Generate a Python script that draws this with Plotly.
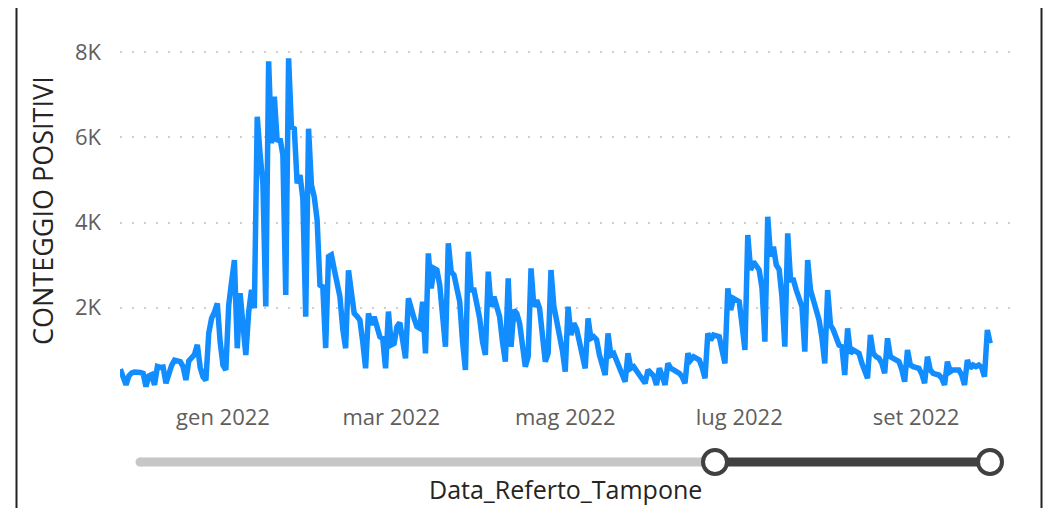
import pandas as pd
import plotly.graph_objects as go

# ---------------- data (daily positive counts) ----------------
start_date = "2021-11-26"
nov_2021 = [560, 400, 190, 400, 470]
dec_2021 = [490, 500, 480, 460, 150, 400, 430, 190, 620, 600, 610, 230, 450, 650, 770, 740,
            735, 620, 305, 750, 850, 900, 1130, 600, 380, 300, 1400, 1750, 1900, 2100, 1200]
jan_2022 = [650, 540, 2060, 2600, 3120, 1050, 2340, 1600, 890, 1900, 2420, 1990, 6480, 5600,
            4900, 2030, 7780, 5860, 6950, 5900, 5970, 5580, 2300, 7850, 6250, 6200, 4920, 5110,
            4560, 1790, 6200]
feb_2022 = [4880, 4600, 4060, 2530, 2490, 1050, 3200, 3240, 2900, 2550, 2260, 1500, 1050, 2880,
            2220, 1870, 1800, 1710, 1200, 580, 1870, 1600, 1790, 1500, 1320, 1280, 580, 1910]
mar_2022 = [1130, 1165, 1556, 1650, 1300, 813, 2220, 1908, 1750, 1556, 1517, 2142, 930, 3275,
            2455, 2924, 2885, 2533, 1800, 1087, 3510, 2846, 2768, 2416, 2142, 1200, 540, 3314,
            2416, 2416, 2142]
apr_2022 = [1752, 1200, 891, 2846, 2025, 2260, 2025, 1790, 1200, 735, 2690, 1087, 1947, 1869,
            1634, 1100, 618, 852, 2924, 2025, 2181, 1986, 1300, 735, 930, 2885, 2040, 1728,
            1400, 1000]
may_2022 = [500, 2025, 1361, 1634, 1500, 1165, 850, 579, 1752, 1283, 1322, 1250, 891, 650, 422,
            1400, 891, 930, 750, 618, 450, 266, 930, 579, 618, 500, 422, 330, 227, 540, 461]
jun_2022 = [400, 188, 579, 400, 188, 696, 579, 540, 500, 461, 380, 227, 930, 774, 852, 820, 774,
            600, 344, 1400, 1243, 1361, 1330, 1322, 1000, 696, 2455, 1947, 2220, 2180]
jul_2022 = [2142, 1600, 1009, 3705, 2885, 3080, 3000, 2885, 2455, 1204, 4135, 3200, 3432, 3002,
            2900, 2250, 1087, 3745, 2650, 2650, 2416, 2200, 2025, 970, 3119, 2416, 2181, 1950,
            1713, 1300, 696]
aug_2022 = [2416, 1595, 1478, 1300, 1126, 1087, 422, 1517, 930, 1009, 960, 930, 700, 500, 344,
            1361, 930, 852, 813, 700, 461, 1283, 852, 813, 780, 735, 550, 266, 1009, 657, 618]
sep_2022 = [600, 579, 450, 227, 852, 540, 461, 440, 422, 350, 188, 735, 500, 540, 540, 540, 422,
            188, 774, 579, 657, 618, 657, 600, 383, 1478, 1165]

tick_dates = ["2022-01-01", "2022-03-01", "2022-05-01", "2022-07-01", "2022-09-01"]
tick_labels = ["gen 2022", "mar 2022", "mag 2022", "lug 2022", "set 2022"]
y_ticks = [2000, 4000, 6000, 8000]
y_tick_labels = ["2K", "4K", "6K", "8K"]
y_title = "CONTEGGIO POSITIVI"
x_title = "Data_Referto_Tampone"

values = (nov_2021 + dec_2021 + jan_2022 + feb_2022 + mar_2022 + apr_2022 + may_2022
          + jun_2022 + jul_2022 + aug_2022 + sep_2022)
dates = pd.date_range(start_date, periods=len(values), freq="D")

# ---------------- layout geometry ----------------
# the page body has an 8px margin, so the figure is placed 8px in from the window corner
OFF = 8
W, H = 1051 - 2 * OFF, 516 - 2 * OFF
PL, PR, PT, PB = 120 - OFF, 1014 - OFF, 35 - OFF, 393 - OFF   # plot area in figure pixels
jan1 = pd.Timestamp("2022-01-01")
px_per_day = 2.852
x_px_jan1 = 223 - OFF
x0 = jan1 + pd.Timedelta(days=(PL - x_px_jan1) / px_per_day)
x1 = jan1 + pd.Timedelta(days=(PR - x_px_jan1) / px_per_day)
y_max = 8000 * (PB - PT) / (PB - (52 - OFF))


def px_x(px):  # window pixel -> paper x
    return (px - OFF - PL) / (PR - PL)


def px_y(py):  # window pixel -> paper y
    return (PB - (py - OFF)) / (PB - PT)


FONT = "Segoe UI, Open Sans, sans-serif"

fig = go.Figure()
fig.add_trace(go.Scatter(
    x=dates, y=values, mode="lines",
    line=dict(color="#118DFF", width=5.5),
    hoverinfo="skip", showlegend=False,
))

shapes = []
track_y = px_y(462)
shapes.append(dict(type="line", xref="paper", yref="paper", x0=px_x(140), x1=px_x(715),
                   y0=track_y, y1=track_y, line=dict(color="#C8C6C4", width=9)))
shapes.append(dict(type="circle", xref="paper", yref="paper", xsizemode="pixel", ysizemode="pixel",
                   xanchor=px_x(140), yanchor=track_y, x0=-4.5, x1=4.5, y0=-4.5, y1=4.5,
                   fillcolor="#C8C6C4", line=dict(width=0)))
shapes.append(dict(type="line", xref="paper", yref="paper", x0=px_x(715), x1=px_x(990),
                   y0=track_y, y1=track_y, line=dict(color="#404040", width=9)))
for hx in (715, 990):
    shapes.append(dict(type="circle", xref="paper", yref="paper", xsizemode="pixel",
                       ysizemode="pixel", xanchor=px_x(hx), yanchor=track_y,
                       x0=-12, x1=12, y0=-12, y1=12,
                       fillcolor="#FFFFFF", line=dict(color="#404040", width=4)))
# frame
for fx in (16.5, 1041.5):
    shapes.append(dict(type="line", xref="paper", yref="paper", x0=px_x(fx), x1=px_x(fx),
                       y0=px_y(OFF), y1=px_y(516), line=dict(color="#222222", width=2)))

fig.update_layout(
    width=W, height=H,
    margin=dict(l=PL, r=W - PR, t=PT, b=H - PB),
    paper_bgcolor="white", plot_bgcolor="white",
    shapes=shapes,
    xaxis=dict(range=[x0, x1], tickvals=tick_dates, ticktext=tick_labels,
               showgrid=False, zeroline=False, showline=False, ticks="",
               tickfont=dict(family=FONT, size=22, color="#605E5C"),
               ticklabelstandoff=9),
    yaxis=dict(range=[0, y_max], tickvals=y_ticks, ticktext=y_tick_labels,
               showgrid=True, gridcolor="#CFCFCF", gridwidth=2, griddash="2px,10px",
               zeroline=False, showline=False, ticks="",
               tickfont=dict(family=FONT, size=22, color="#605E5C"),
               ticklabelstandoff=18),
    annotations=[
        dict(text=y_title, xref="paper", yref="paper", x=px_x(42), y=px_y(211),
             textangle=-90, showarrow=False, xanchor="center", yanchor="middle",
             font=dict(family=FONT, size=27, color="#252423")),
        dict(text=x_title, xref="paper", yref="paper", x=px_x(565), y=px_y(508),
             showarrow=False, xanchor="center", yanchor="bottom",
             font=dict(family=FONT, size=25, color="#252423")),
    ],
)

fig.write_html("out.html")
